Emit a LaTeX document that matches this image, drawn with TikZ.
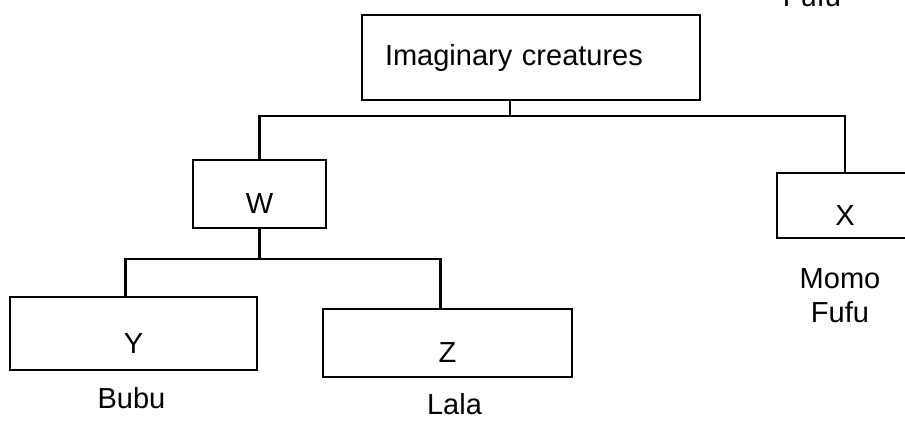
\documentclass[tikz,border=0pt]{standalone}
\usepackage{fontspec}
\setmainfont{Liberation Sans}
\usetikzlibrary{positioning}
\tikzstyle{group}=[rectangle, sharp corners, draw=black, line width=2.2pt,
  inner sep=0pt, font=\fontsize{29}{34}\selectfont]
\tikzstyle{leaf}=[group, text height=39pt, text depth=0pt]
\tikzstyle{member}=[inner sep=0pt, align=center, font=\fontsize{29}{34}\selectfont]
\tikzstyle{branch}=[draw=black, line width=2.2pt]

\begin{document}
\begin{tikzpicture}[x=1pt, y=1pt]
\useasboundingbox (0,0) rectangle (905,-421);
\clip (0,0) rectangle (905,-421);

% boxes
\node[group, text width=292pt, inner xsep=23pt, minimum height=85pt,
  align=left] (creatures) at (531,-57.5) {Imaginary creatures};
\node[leaf, minimum width=133pt, minimum height=68pt] (W) at (259.5,-194) {W};
\node[leaf, minimum width=136pt, minimum height=65pt] (X) at (845,-205.5) {X};
\node[leaf, minimum width=247pt, minimum height=73pt] (Y) at (133.5,-333.5) {Y};
\node[leaf, minimum width=249pt, minimum height=68pt] (Z) at (447.5,-343) {Z};

% names under the boxes
\node[member, below=16pt of Y, xshift=-2pt] (bubu) {Bubu};
\node[member, below=15pt of Z, xshift=7pt] (lala) {Lala};
\node[member, below=29pt of X, xshift=-5pt] (momofufu) {Momo\\Fufu};
\node[member, anchor=base] (fufutop) at (812,-6) {Fufu};

% branches
\draw[branch] ([xshift=-21pt]creatures.south) -- ++(0,-15) coordinate (rootfork);
\draw[branch] (W.north) |- (rootfork) -| (X.north);
\draw[branch] (W.south) -- ++(0,-30) coordinate (wfork);
\draw[branch] ([xshift=-8pt]Y.north) |- (wfork) -| ([xshift=-7pt]Z.north);

\end{tikzpicture}
\end{document}
